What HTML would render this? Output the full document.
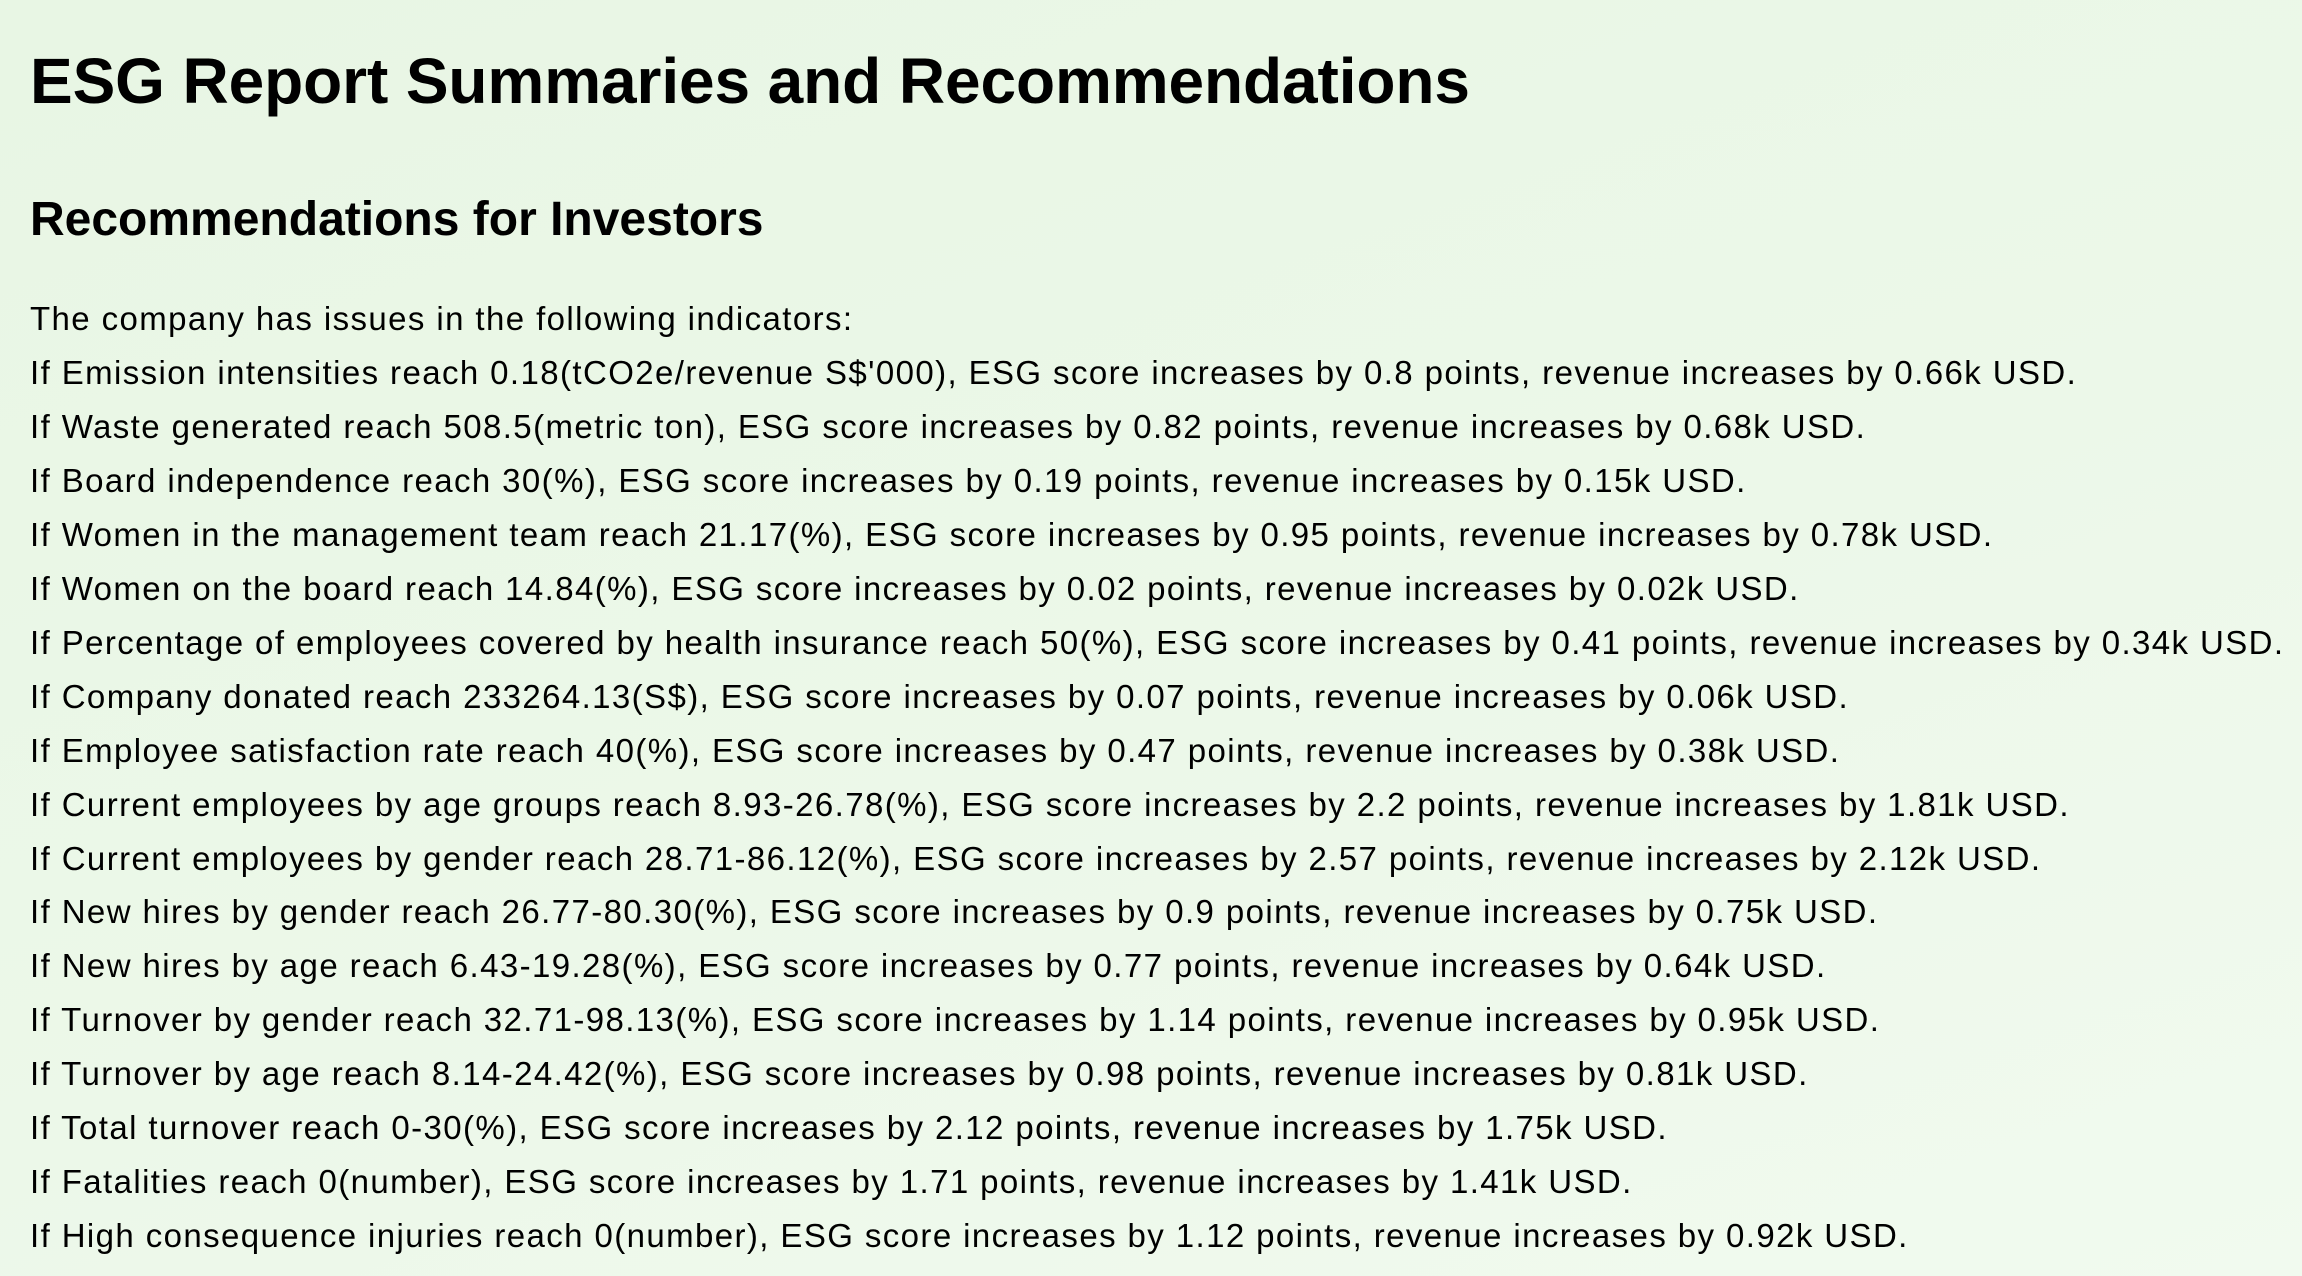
<!DOCTYPE html>
<html>
<head>
<meta charset="utf-8">
<style>
  html,body{margin:0;padding:0;}
  body{width:2302px;height:1276px;overflow:hidden;position:relative;
    background:linear-gradient(160deg,#e8f6e4 0%,#ecf8e9 55%,#f1faef 100%);
    font-family:"Liberation Sans",Arial,sans-serif;color:#000;}
  h1{position:absolute;left:30px;top:41px;margin:0;font-size:64px;line-height:80px;font-weight:bold;letter-spacing:-0.1px;}
  h2{position:absolute;left:30px;top:190px;margin:0;font-size:48px;line-height:60px;font-weight:bold;}
  #lines{position:absolute;left:30px;top:292px;font-size:33px;line-height:53.95px;white-space:nowrap;letter-spacing:1.4px;}
  #lines div{margin:0;}
</style>
</head>
<body>
<h1>ESG Report Summaries and Recommendations</h1>
<h2>Recommendations for Investors</h2>
<div id="lines">
<div>The company has issues in the following indicators:</div>
<div>If Emission intensities reach 0.18(tCO2e/revenue S$'000), ESG score increases by 0.8 points, revenue increases by 0.66k USD.</div>
<div>If Waste generated reach 508.5(metric ton), ESG score increases by 0.82 points, revenue increases by 0.68k USD.</div>
<div>If Board independence reach 30(%), ESG score increases by 0.19 points, revenue increases by 0.15k USD.</div>
<div>If Women in the management team reach 21.17(%), ESG score increases by 0.95 points, revenue increases by 0.78k USD.</div>
<div>If Women on the board reach 14.84(%), ESG score increases by 0.02 points, revenue increases by 0.02k USD.</div>
<div>If Percentage of employees covered by health insurance reach 50(%), ESG score increases by 0.41 points, revenue increases by 0.34k USD.</div>
<div>If Company donated reach 233264.13(S$), ESG score increases by 0.07 points, revenue increases by 0.06k USD.</div>
<div>If Employee satisfaction rate reach 40(%), ESG score increases by 0.47 points, revenue increases by 0.38k USD.</div>
<div>If Current employees by age groups reach 8.93-26.78(%), ESG score increases by 2.2 points, revenue increases by 1.81k USD.</div>
<div>If Current employees by gender reach 28.71-86.12(%), ESG score increases by 2.57 points, revenue increases by 2.12k USD.</div>
<div>If New hires by gender reach 26.77-80.30(%), ESG score increases by 0.9 points, revenue increases by 0.75k USD.</div>
<div>If New hires by age reach 6.43-19.28(%), ESG score increases by 0.77 points, revenue increases by 0.64k USD.</div>
<div>If Turnover by gender reach 32.71-98.13(%), ESG score increases by 1.14 points, revenue increases by 0.95k USD.</div>
<div>If Turnover by age reach 8.14-24.42(%), ESG score increases by 0.98 points, revenue increases by 0.81k USD.</div>
<div>If Total turnover reach 0-30(%), ESG score increases by 2.12 points, revenue increases by 1.75k USD.</div>
<div>If Fatalities reach 0(number), ESG score increases by 1.71 points, revenue increases by 1.41k USD.</div>
<div>If High consequence injuries reach 0(number), ESG score increases by 1.12 points, revenue increases by 0.92k USD.</div>
</div>
</body>
</html>
